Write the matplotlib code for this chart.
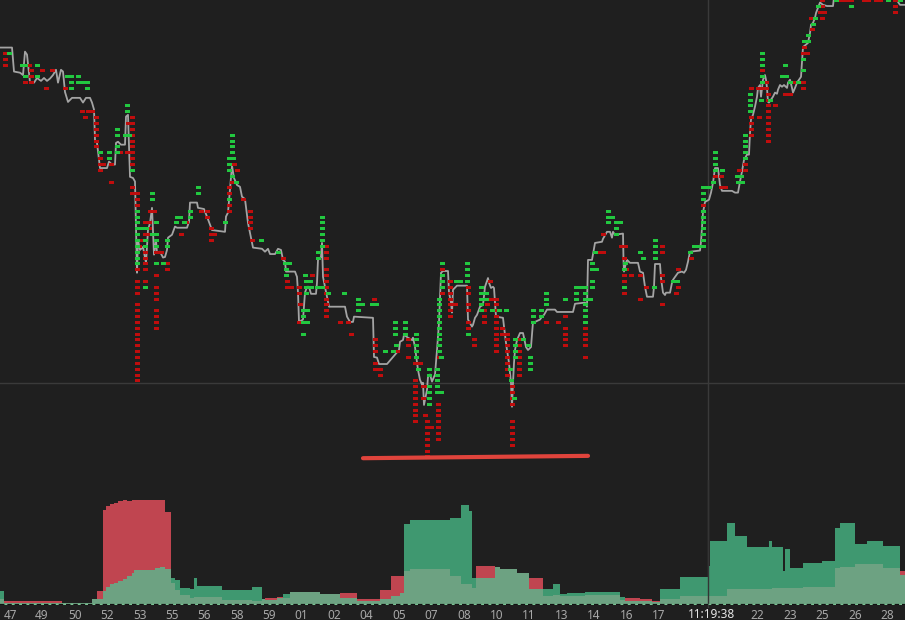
import matplotlib
matplotlib.use('Agg')
import matplotlib.pyplot as plt
from matplotlib.transforms import blended_transform_factory

BG = '#1f1f1f'

# x = bar index, price in ticks
line_t = [0, 12, 14, 20, 23, 25, 27, 30, 34, 37, 41, 44, 47, 50, 53, 56, 58, 61, 63, 65, 68, 72, 80, 83, 86, 90, 92, 94, 95, 97,
          100, 107, 109, 112, 115, 116, 118, 121, 125, 126, 128, 130, 133, 135, 137, 138, 140, 143, 146, 148, 150, 152, 154, 156,
          157, 160, 163, 165, 167, 168, 172, 175, 177, 187, 189, 190, 197, 198, 204, 207, 212, 225, 226, 228, 230, 232, 234, 237,
          240, 242, 245, 248, 253, 262, 265, 268, 270, 275, 278, 281, 283, 285, 286, 295, 297, 298, 299, 303, 305, 307, 309, 311,
          316, 317, 318, 321, 322, 323, 327, 329, 345, 347, 350, 353, 354, 373, 374, 377, 379, 387, 390, 393, 399, 400, 403, 404,
          408, 412, 413, 415, 418, 420, 422, 423, 424, 427, 428, 430, 432, 435, 437, 439, 441, 443, 448, 449, 451, 452, 453, 457,
          467, 468, 472, 473, 475, 477, 480, 483, 485, 488, 489, 491, 493, 494, 496, 503, 504, 506, 507, 509, 511, 512, 513, 514,
          515, 517, 520, 523, 526, 528, 531, 533, 535, 540, 542, 544, 547, 555, 557, 573, 575, 585, 587, 588, 592, 595, 602, 603,
          607, 610, 612, 613, 615, 623, 623.5, 624, 626, 627, 630, 638, 640, 643, 645, 647, 653, 654, 655, 660, 661, 663, 665, 666,
          670, 672, 673, 678, 682, 684, 686, 688, 690, 700, 701, 703, 705, 709, 711, 713, 715, 718, 720, 722, 732, 735, 738, 740,
          742, 744, 747, 749, 750, 751, 753, 755, 757, 758, 760, 761, 763, 765, 766, 767, 768, 769, 771, 773, 775, 777, 778, 780,
          782, 784, 787, 788, 790, 792, 793, 795, 797, 799, 801, 802, 803, 806, 808, 810, 811, 813, 815, 816, 818, 820, 823, 827,
          833, 834, 840, 895, 898, 900, 905]
line_p = [92.9, 92.9, 88.8, 88.6, 88.2, 92.2, 91.7, 86.9, 86.9, 87.7, 87.2, 87.7, 87.2, 87.6, 88.2, 89.1, 86.9, 89.1, 88.8,
          85.3, 83.6, 84.3, 84.3, 83.5, 84.3, 84.3, 83.5, 82.3, 77.1, 76.6, 72.3, 72.3, 73.4, 72.9, 72.9, 76.6, 76.8, 76.3, 76.3,
          81.1, 81.4, 70.8, 70.6, 70.0, 54.4, 60.0, 58.3, 58.8, 56.1, 61.7, 62.9, 65.5, 57.5, 60.0, 57.8, 58.0, 57.0, 57.1, 58.3,
          60.4, 60.9, 62.3, 62.1, 62.1, 63.1, 66.4, 66.4, 65.5, 65.3, 64.0, 61.7, 61.4, 64.0, 64.7, 68.6, 72.7, 70.6, 69.4, 69.1,
          67.4, 67.0, 62.9, 58.7, 58.5, 58.0, 58.5, 57.6, 57.6, 58.5, 58.3, 56.6, 56.3, 54.6, 54.6, 53.7, 51.0, 46.0, 46.4, 51.0,
          52.0, 52.0, 50.8, 50.8, 52.7, 56.6, 57.1, 59.5, 53.7, 50.3, 48.6, 48.6, 46.9, 46.0, 46.0, 46.9, 46.7, 40.0, 39.9, 38.8,
          38.8, 39.4, 40.0, 41.2, 42.6, 42.9, 43.8, 43.3, 42.9, 43.3, 41.7, 37.8, 36.1, 35.3, 35.6, 31.8, 34.4, 36.6, 37.0, 35.8,
          37.0, 41.2, 45.9, 54.4, 54.7, 54.7, 51.0, 49.3, 47.6, 51.5, 52.2, 52.2, 46.4, 45.2, 45.5, 46.7, 47.2, 48.6, 48.9, 52.0,
          53.5, 52.7, 51.8, 52.0, 51.8, 46.9, 46.7, 45.2, 42.4, 41.2, 39.0, 35.6, 31.5, 35.6, 39.0, 41.2, 42.9, 44.1, 44.1, 41.7,
          41.2, 41.7, 46.0, 46.0, 46.4, 46.9, 47.2, 48.1, 48.1, 47.7, 47.7, 49.1, 49.3, 48.6, 56.6, 56.6, 59.5, 59.7, 60.2, 61.4,
          61.4, 60.4, 61.4, 60.9, 61.1, 56.6, 54.6, 56.1, 56.6, 56.1, 56.1, 54.6, 54.4, 52.0, 50.3, 50.3, 52.0, 55.9, 55.9, 53.5,
          51.0, 50.6, 51.0, 51.0, 52.7, 53.2, 54.4, 54.6, 54.4, 54.9, 56.3, 58.0, 58.2, 59.7, 64.7, 66.5, 66.9, 68.1, 69.8, 72.3,
          72.3, 69.4, 68.4, 68.4, 68.1, 68.1, 70.0, 71.7, 73.7, 74.6, 74.6, 78.3, 80.6, 81.4, 82.8, 84.5, 86.0, 86.5, 84.5, 87.4,
          88.2, 87.4, 86.0, 83.6, 83.5, 84.0, 84.5, 85.2, 85.0, 85.7, 86.5, 86.2, 86.5, 86.0, 86.9, 87.4, 86.0, 85.2, 86.0, 86.9,
          87.4, 87.9, 90.5, 93.0, 93.4, 93.7, 95.4, 96.8, 97.1, 98.0, 98.8, 99.7, 100.6, 100.2, 100.0, 100.0, 101.5, 102.8, 102.8,
          100.7, 100.2, 100.2]

# trade prints: (bar, lowest tick, highest tick), one print per tick in between
sell_prints = [
    (5, 90, 92), (29, 90, 90), (31, 89, 89), (42, 89, 89), (52, 89, 89), (31, 88, 88), (25, 87, 87), (31, 87, 87),
    (46, 86, 86), (65, 86, 86), (82, 82, 82), (88, 82, 82), (92, 82, 82), (85, 81, 81), (96, 76, 81),
    (100, 74, 74), (100, 72, 73), (103, 73, 73), (111, 73, 73), (111, 70, 70), (120, 75, 75), (127, 75, 75),
    (128, 80, 80), (132, 73, 81), (132, 68, 69), (137, 66, 68), (137, 55, 55), (140, 60, 60), (139, 59, 59),
    (137, 51, 53), (137, 36, 49), (145, 63, 63), (145, 61, 61), (145, 55, 58), (145, 53, 53), (149, 61, 63),
    (150, 65, 65), (154, 65, 65), (156, 58, 58), (156, 54, 54), (156, 50, 52), (156, 45, 48), (161, 58, 58),
    (167, 55, 56), (181, 61, 61), (186, 63, 63), (201, 65, 65), (207, 64, 65), (211, 60, 62), (214, 61, 61),
    (234, 73, 73), (237, 72, 72), (232, 70, 70), (229, 68, 69), (229, 65, 66), (243, 67, 67), (250, 62, 65),
    (252, 60, 60), (283, 57, 57), (287, 52, 53), (291, 52, 52), (312, 54, 54), (299, 51, 52), (300, 49, 49),
    (299, 46, 46), (326, 57, 59), (326, 47, 55), (340, 46, 46), (348, 46, 46), (351, 44, 44), (374, 50, 50),
    (375, 41, 43), (375, 38, 39), (380, 37, 38), (397, 41, 41), (408, 42, 43), (408, 40, 40), (415, 39, 39),
    (420, 39, 39), (415, 29, 36), (423, 35, 35), (428, 35, 35), (423, 33, 33), (425, 30, 30), (427, 23, 29),
    (431, 28, 28), (442, 55, 55), (442, 51, 51), (439, 40, 40), (438, 26, 32), (450, 47, 53), (455, 49, 49),
    (468, 51, 52), (468, 48, 49), (468, 45, 46), (474, 42, 43), (490, 53, 53), (491, 50, 50), (487, 49, 49),
    (484, 46, 48), (496, 41, 50), (502, 44, 45), (507, 37, 44), (512, 32, 35), (512, 25, 29), (519, 37, 43),
    (546, 46, 46), (558, 46, 46), (565, 47, 47), (565, 42, 45), (585, 42, 45), (585, 40, 40), (599, 58, 58),
    (603, 58, 58), (603, 61, 61), (621, 59, 59), (625, 59, 59), (624, 57, 57), (626, 55, 55), (624, 53, 54),
    (624, 51, 51), (631, 54, 54), (640, 54, 54), (640, 50, 50), (646, 52, 52), (662, 58, 59), (662, 53, 54),
    (662, 49, 49), (678, 52, 52), (676, 51, 51), (678, 55, 55), (691, 57, 57), (703, 66, 66), (721, 69, 69),
    (725, 69, 69), (715, 71, 71), (721, 71, 71), (739, 72, 72), (745, 72, 72), (745, 73, 73), (751, 78, 81),
    (751, 86, 86), (762, 89, 89), (766, 87, 87), (758, 86, 86), (762, 86, 86), (766, 86, 86), (768, 77, 85),
    (775, 83, 83), (759, 81, 81), (785, 85, 85), (790, 85, 85), (795, 87, 87), (803, 86, 87), (804, 93, 93),
    (803, 92, 92), (807, 92, 92), (812, 96, 96), (811, 98, 98), (822, 98, 101), (820, 99, 99), (824, 99, 99),
    (841, 101, 101), (846, 101, 101), (851, 101, 101), (864, 101, 101), (868, 101, 101), (876, 101, 101),
    (880, 101, 101), (895, 99, 101),
]
buy_prints = [
    (9, 92, 92), (22, 90, 90), (25, 90, 90), (37, 90, 90), (25, 88, 88), (37, 88, 88), (67, 88, 88), (71, 88, 88),
    (78, 88, 88), (71, 86, 87), (78, 87, 87), (82, 87, 87), (87, 86, 87), (100, 75, 75), (109, 74, 75),
    (117, 78, 79), (117, 75, 76), (127, 82, 83), (125, 78, 78), (129, 78, 78), (132, 72, 72), (137, 63, 65),
    (137, 56, 62), (142, 62, 62), (146, 62, 62), (145, 59, 60), (145, 52, 52), (152, 67, 68), (156, 63, 63),
    (156, 59, 61), (152, 61, 61), (156, 56, 56), (167, 59, 60), (163, 56, 56), (177, 64, 64), (180, 64, 64),
    (176, 63, 63), (184, 63, 63), (190, 64, 65), (198, 68, 69), (225, 63, 63), (232, 75, 78), (229, 74, 74),
    (233, 74, 74), (229, 72, 73), (232, 71, 71), (236, 70, 70), (229, 67, 67), (261, 60, 60), (278, 58, 58),
    (285, 56, 56), (289, 56, 56), (286, 54, 55), (305, 54, 54), (306, 53, 53), (310, 53, 53), (306, 52, 52),
    (311, 52, 52), (317, 52, 52), (306, 51, 51), (303, 46, 48), (307, 48, 48), (307, 46, 46), (303, 44, 44),
    (322, 59, 64), (318, 57, 58), (322, 52, 52), (328, 51, 51), (344, 51, 51), (358, 48, 50), (362, 49, 49),
    (372, 49, 49), (376, 49, 49), (395, 44, 46), (405, 44, 46), (385, 41, 41), (393, 41, 41), (396, 42, 42),
    (416, 41, 44), (416, 40, 40), (418, 38, 38), (429, 37, 38), (429, 32, 35), (442, 56, 56), (442, 52, 54),
    (439, 41, 50), (437, 34, 38), (441, 34, 34), (441, 40, 40), (456, 53, 53), (460, 53, 53), (467, 53, 56),
    (468, 44, 44), (481, 48, 52), (486, 50, 51), (492, 48, 48), (499, 48, 48), (506, 48, 48), (510, 38, 38),
    (511, 36, 36), (514, 33, 33), (515, 40, 43), (523, 43, 43), (528, 42, 42), (530, 38, 40), (533, 46, 48),
    (541, 47, 48), (546, 49, 51), (565, 50, 50), (576, 50, 52), (585, 46, 52), (581, 52, 52), (590, 50, 50),
    (592, 55, 56), (596, 55, 55), (592, 52, 53), (595, 58, 58), (608, 63, 65), (612, 64, 64), (616, 61, 63),
    (620, 63, 63), (625, 56, 56), (624, 55, 55), (624, 52, 52), (654, 52, 52), (640, 58, 58), (643, 57, 57),
    (655, 57, 60), (673, 53, 53), (677, 53, 53), (690, 58, 58), (694, 59, 59), (698, 59, 59), (703, 67, 69),
    (703, 59, 65), (705, 69, 69), (709, 69, 69), (713, 70, 70), (738, 70, 70), (715, 72, 75), (722, 72, 72),
    (737, 71, 71), (741, 71, 71), (742, 70, 70), (745, 74, 78), (750, 82, 85), (762, 90, 92), (762, 87, 88),
    (770, 84, 84), (761, 84, 84), (785, 90, 90), (782, 88, 88), (786, 88, 88), (790, 87, 87), (798, 87, 87),
    (808, 95, 95), (804, 94, 94), (808, 94, 94), (803, 91, 91), (803, 89, 89), (813, 97, 97), (815, 98, 98),
    (818, 100, 100), (836, 101, 101), (851, 100, 100), (888, 101, 101), (900, 101, 101),
]

# volume pane (step series)
vol_t = [0, 4, 62, 92, 97, 103, 106, 110, 114, 118, 123, 127, 132, 134, 155, 160, 165, 171, 175, 180, 190, 194, 197,
         222, 252, 262, 265, 277, 283, 290, 320, 340, 357, 380, 391, 400, 404, 410, 450, 461, 469, 472, 476, 495, 500,
         517, 529, 543, 553, 560, 567, 585, 620, 625, 640, 652, 660, 680, 708, 710, 727, 735, 747, 769, 772, 783, 785,
         790, 803, 822, 835, 840, 855, 867, 883, 900, 905]
vol_sell = [6, 4, 2, 6, 14, 95, 99, 101, 102, 104, 105, 104, 105, 105, 105, 105, 93, 22, 15, 10, 7, 8, 8,
            5, 4, 6, 7, 8, 7, 13, 11, 12, 6, 15, 29, 29, 34, 36, 29, 21, 21, 17, 39, 38, 36,
            32, 27, 9, 10, 9, 9, 10, 5, 7, 6, 4, 6, 9, 9, 9, 16, 16, 16, 16, 17, 17, 17,
            17, 18, 18, 37, 38, 41, 41, 37, 34, 34]
vol_buy = [14, 2, 2, 6, 6, 14, 18, 21, 22, 24, 26, 29, 32, 35, 37, 38, 36, 27, 25, 17, 16, 27, 19,
           15, 18, 6, 5, 7, 11, 13, 11, 7, 4, 6, 9, 12, 81, 85, 87, 100, 94, 27, 27, 38, 36,
           32, 16, 16, 21, 11, 12, 13, 8, 4, 4, 3, 16, 28, 39, 64, 82, 69, 58, 64, 58, 34, 56,
           37, 42, 44, 77, 82, 61, 64, 59, 30, 30]

tick_t = [10, 42, 75, 107, 140, 172, 204, 237, 269, 301, 334, 366, 399, 431, 464, 497, 529, 562, 594, 627, 659,
          757, 790, 822, 855, 887]
tick_labels = ['47', '49', '50', '52', '53', '55', '56', '58', '59', '01', '02', '04', '05', '07', '08', '10', '11',
               '13', '14', '16', '17', '22', '23', '25', '26', '28']

cursor_t = 708
cursor_p = 35.6
cursor_label = '11:19:38'
mark_t = [363, 588]
mark_p = [22.7, 23.1]


def expand(prints):
    xs, ps = [], []
    for t, lo, hi in prints:
        for p in range(lo, hi + 1):
            xs.append(t)
            ps.append(p)
    return xs, ps


fig = plt.figure(figsize=(9.05, 6.2), dpi=100, facecolor=BG)

ax = fig.add_axes([0, 0, 1, 1])
ax.set_facecolor(BG)
ax.set_xlim(0, 905)
ax.set_ylim(-4.96, 101.03)
ax.axis('off')

ax.axhline(cursor_p, color='#3a3a3a', lw=1, zorder=1)
ax.axvline(cursor_t, color='#3a3a3a', lw=1, zorder=1)

ax.plot(line_t, line_p, color='#a4a4a4', lw=1.3, zorder=2)

rect = [(-1, -0.6), (1, -0.6), (1, 0.6), (-1, 0.6), (-1, -0.6)]
sx, sp = expand(sell_prints)
bx, bp = expand(buy_prints)
ax.plot(sx, sp, ls='none', marker=rect, ms=3.6, mew=0, color='#c00d0d', zorder=3)
ax.plot(bx, bp, ls='none', marker=rect, ms=3.6, mew=0, color='#22c840', zorder=3)

ax.plot(mark_t, mark_p, color='#e0443c', lw=3, solid_capstyle='round', zorder=4)

# volume pane
vax = fig.add_axes([0, 15.5 / 620, 1, 125 / 620])
vax.patch.set_alpha(0)
vax.set_xlim(0, 905)
vax.set_ylim(0, 125)
vol_min = [min(s, b) for s, b in zip(vol_sell, vol_buy)]
vax.fill_between(vol_t, 0, vol_sell, step='post', color='#c04550', lw=0)
vax.fill_between(vol_t, 0, vol_buy, step='post', color='#3f9870', lw=0)
vax.fill_between(vol_t, 0, vol_min, step='post', color='#6da282', lw=0)
vax.axvline(cursor_t, color='#343434', lw=1, zorder=5)
vax.axhline(0, color='#79c392', lw=1.6, zorder=6)
vax.axhline(0, color='#111111', lw=1.6, ls=(0, (2, 1.3)), zorder=7)

for s in vax.spines.values():
    s.set_visible(False)
vax.set_yticks([])
vax.set_xticks(tick_t, tick_labels)
vax.tick_params(axis='x', length=0, pad=3, labelsize=8.5, labelcolor='#a8a8a8')
for lbl in vax.get_xticklabels():
    lbl.set_fontfamily('Noto Sans')

tr = blended_transform_factory(vax.transData, vax.transAxes)
vax.text(cursor_t + 4, -0.03, cursor_label, transform=tr, ha='center', va='top', fontsize=8.5,
         fontweight='bold', color='#e6e6e6', family='Noto Sans',
         bbox=dict(facecolor=BG, edgecolor='none', pad=0.5))

fig.savefig('out.png', dpi=100, facecolor=BG)
